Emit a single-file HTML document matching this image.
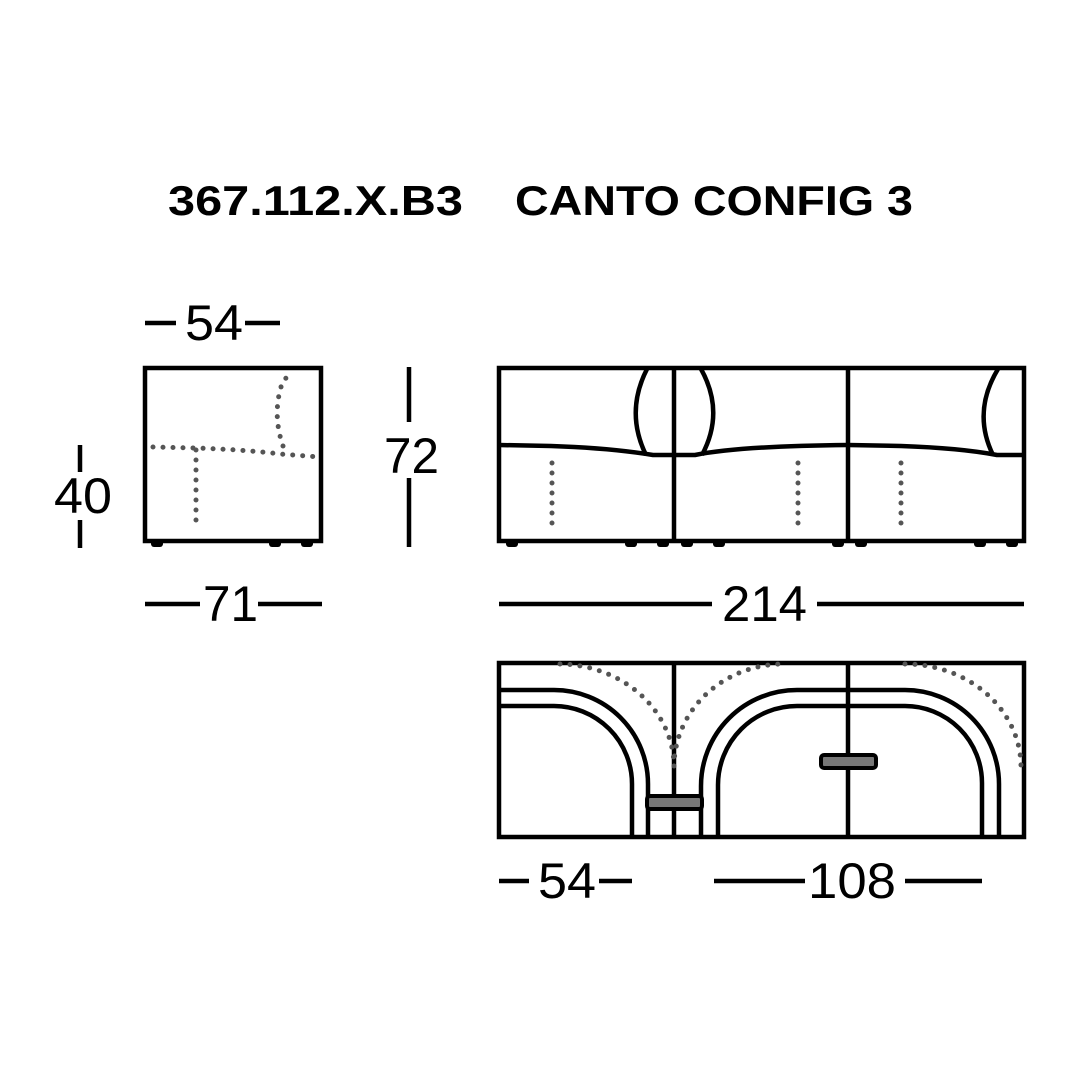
<!DOCTYPE html>
<html><head><meta charset="utf-8"><style>html,body{margin:0;padding:0;background:#fff}svg{display:block}</style></head>
<body>
<svg width="1080" height="1080" viewBox="0 0 1080 1080" xmlns="http://www.w3.org/2000/svg">
<rect width="1080" height="1080" fill="#fff"/>
<g font-family="Liberation Sans, sans-serif" fill="#000">
<text x="168" y="215" font-size="42" font-weight="bold" textLength="295" lengthAdjust="spacingAndGlyphs">367.112.X.B3</text>
<text x="515" y="215" font-size="42" font-weight="bold" textLength="398" lengthAdjust="spacingAndGlyphs">CANTO CONFIG 3</text>
<g font-size="50">
<text x="185" y="340" textLength="58" lengthAdjust="spacingAndGlyphs">54</text>
<text x="54" y="513" textLength="58" lengthAdjust="spacingAndGlyphs">40</text>
<text x="384" y="473" textLength="55" lengthAdjust="spacingAndGlyphs">72</text>
<text x="203" y="621" textLength="55" lengthAdjust="spacingAndGlyphs">71</text>
<text x="722" y="621" textLength="85" lengthAdjust="spacingAndGlyphs">214</text>
<text x="538" y="898" textLength="58" lengthAdjust="spacingAndGlyphs">54</text>
<text x="808" y="898" textLength="88" lengthAdjust="spacingAndGlyphs">108</text>
</g>
</g>
<g stroke="#000" stroke-width="4.5" fill="none">
<line x1="145" y1="323" x2="176" y2="323"/><line x1="245" y1="323" x2="280" y2="323"/>
<line x1="80" y1="445" x2="80" y2="472"/><line x1="80" y1="520" x2="80" y2="548"/>
<line x1="409" y1="367" x2="409" y2="422"/><line x1="409" y1="478" x2="409" y2="547"/>
<line x1="145" y1="604" x2="200" y2="604"/><line x1="258" y1="604" x2="322" y2="604"/>
<line x1="499" y1="604" x2="712" y2="604"/><line x1="817" y1="604" x2="1024" y2="604"/>
<line x1="499" y1="881" x2="529" y2="881"/><line x1="599" y1="881" x2="632" y2="881"/>
<line x1="714" y1="881" x2="805" y2="881"/><line x1="905" y1="881" x2="982" y2="881"/>

<rect x="145" y="368" width="176" height="173"/>
<rect x="499" y="368" width="525" height="173"/>
<line x1="674" y1="368" x2="674" y2="541"/>
<line x1="848" y1="368" x2="848" y2="541"/>
<path d="M499 445 L551 446 Q610 448 653 455 L674 455"/>
<path d="M647 369 Q625 412 646 455"/>
<path d="M674 455 L695 455 Q740 446 848 445"/>
<path d="M701 369 Q725 412 702 455"/>
<path d="M848 445 L901 446 Q960 448 997 455 L1024 455"/>
<path d="M998 369 Q972 412 993 455"/>
<rect x="499" y="663" width="525" height="174"/>
<line x1="674" y1="663" x2="674" y2="837"/>
<line x1="848" y1="663" x2="848" y2="837"/>
<path d="M499 690 L554 690 A94 94 0 0 1 648 784 L648 837"/>
<path d="M499 706 L554 706 A78 78 0 0 1 632 784 L632 837"/>
<path d="M701 837 L701 786 A96 96 0 0 1 797 690 L905 690 A94 94 0 0 1 999 784 L999 837"/>
<path d="M718 837 L718 785 A79 79 0 0 1 797 706 L905 706 A77 77 0 0 1 982 783 L982 837"/>
</g>
<rect x="647" y="796" width="55" height="13" rx="3" fill="#777" stroke="#000" stroke-width="4"/>
<rect x="821" y="755" width="55" height="13" rx="3" fill="#777" stroke="#000" stroke-width="4"/>
<g fill="#000">
<rect x="151" y="540" width="12" height="7" rx="3"/><rect x="269" y="540" width="12" height="7" rx="3"/><rect x="301" y="540" width="12" height="7" rx="3"/>
<rect x="506" y="540" width="12" height="7" rx="3"/><rect x="625" y="540" width="12" height="7" rx="3"/><rect x="657" y="540" width="12" height="7" rx="3"/>
<rect x="681" y="540" width="12" height="7" rx="3"/><rect x="713" y="540" width="12" height="7" rx="3"/><rect x="832" y="540" width="12" height="7" rx="3"/>
<rect x="855" y="540" width="12" height="7" rx="3"/><rect x="974" y="540" width="12" height="7" rx="3"/><rect x="1006" y="540" width="12" height="7" rx="3"/>
</g>
<g stroke="#555" stroke-width="5" fill="none" stroke-dasharray="0 10" stroke-linecap="round">
<path d="M153 447 L195 448 Q250 450 280 454 L320 457"/>
<path d="M283 446 Q274 420 279 395 Q281 383 287 377"/>
<line x1="196" y1="450" x2="196" y2="530"/>
<line x1="552" y1="463" x2="552" y2="528"/>
<line x1="798" y1="463" x2="798" y2="528"/>
<line x1="901" y1="463" x2="901" y2="528"/>
<path d="M560 664 A116 103 0 0 1 674 766"/>
<path d="M674 766 A110 103 0 0 1 785 664"/>
<path d="M905 664 A116 103 0 0 1 1021 766"/>
</g>
</svg>
</body></html>
